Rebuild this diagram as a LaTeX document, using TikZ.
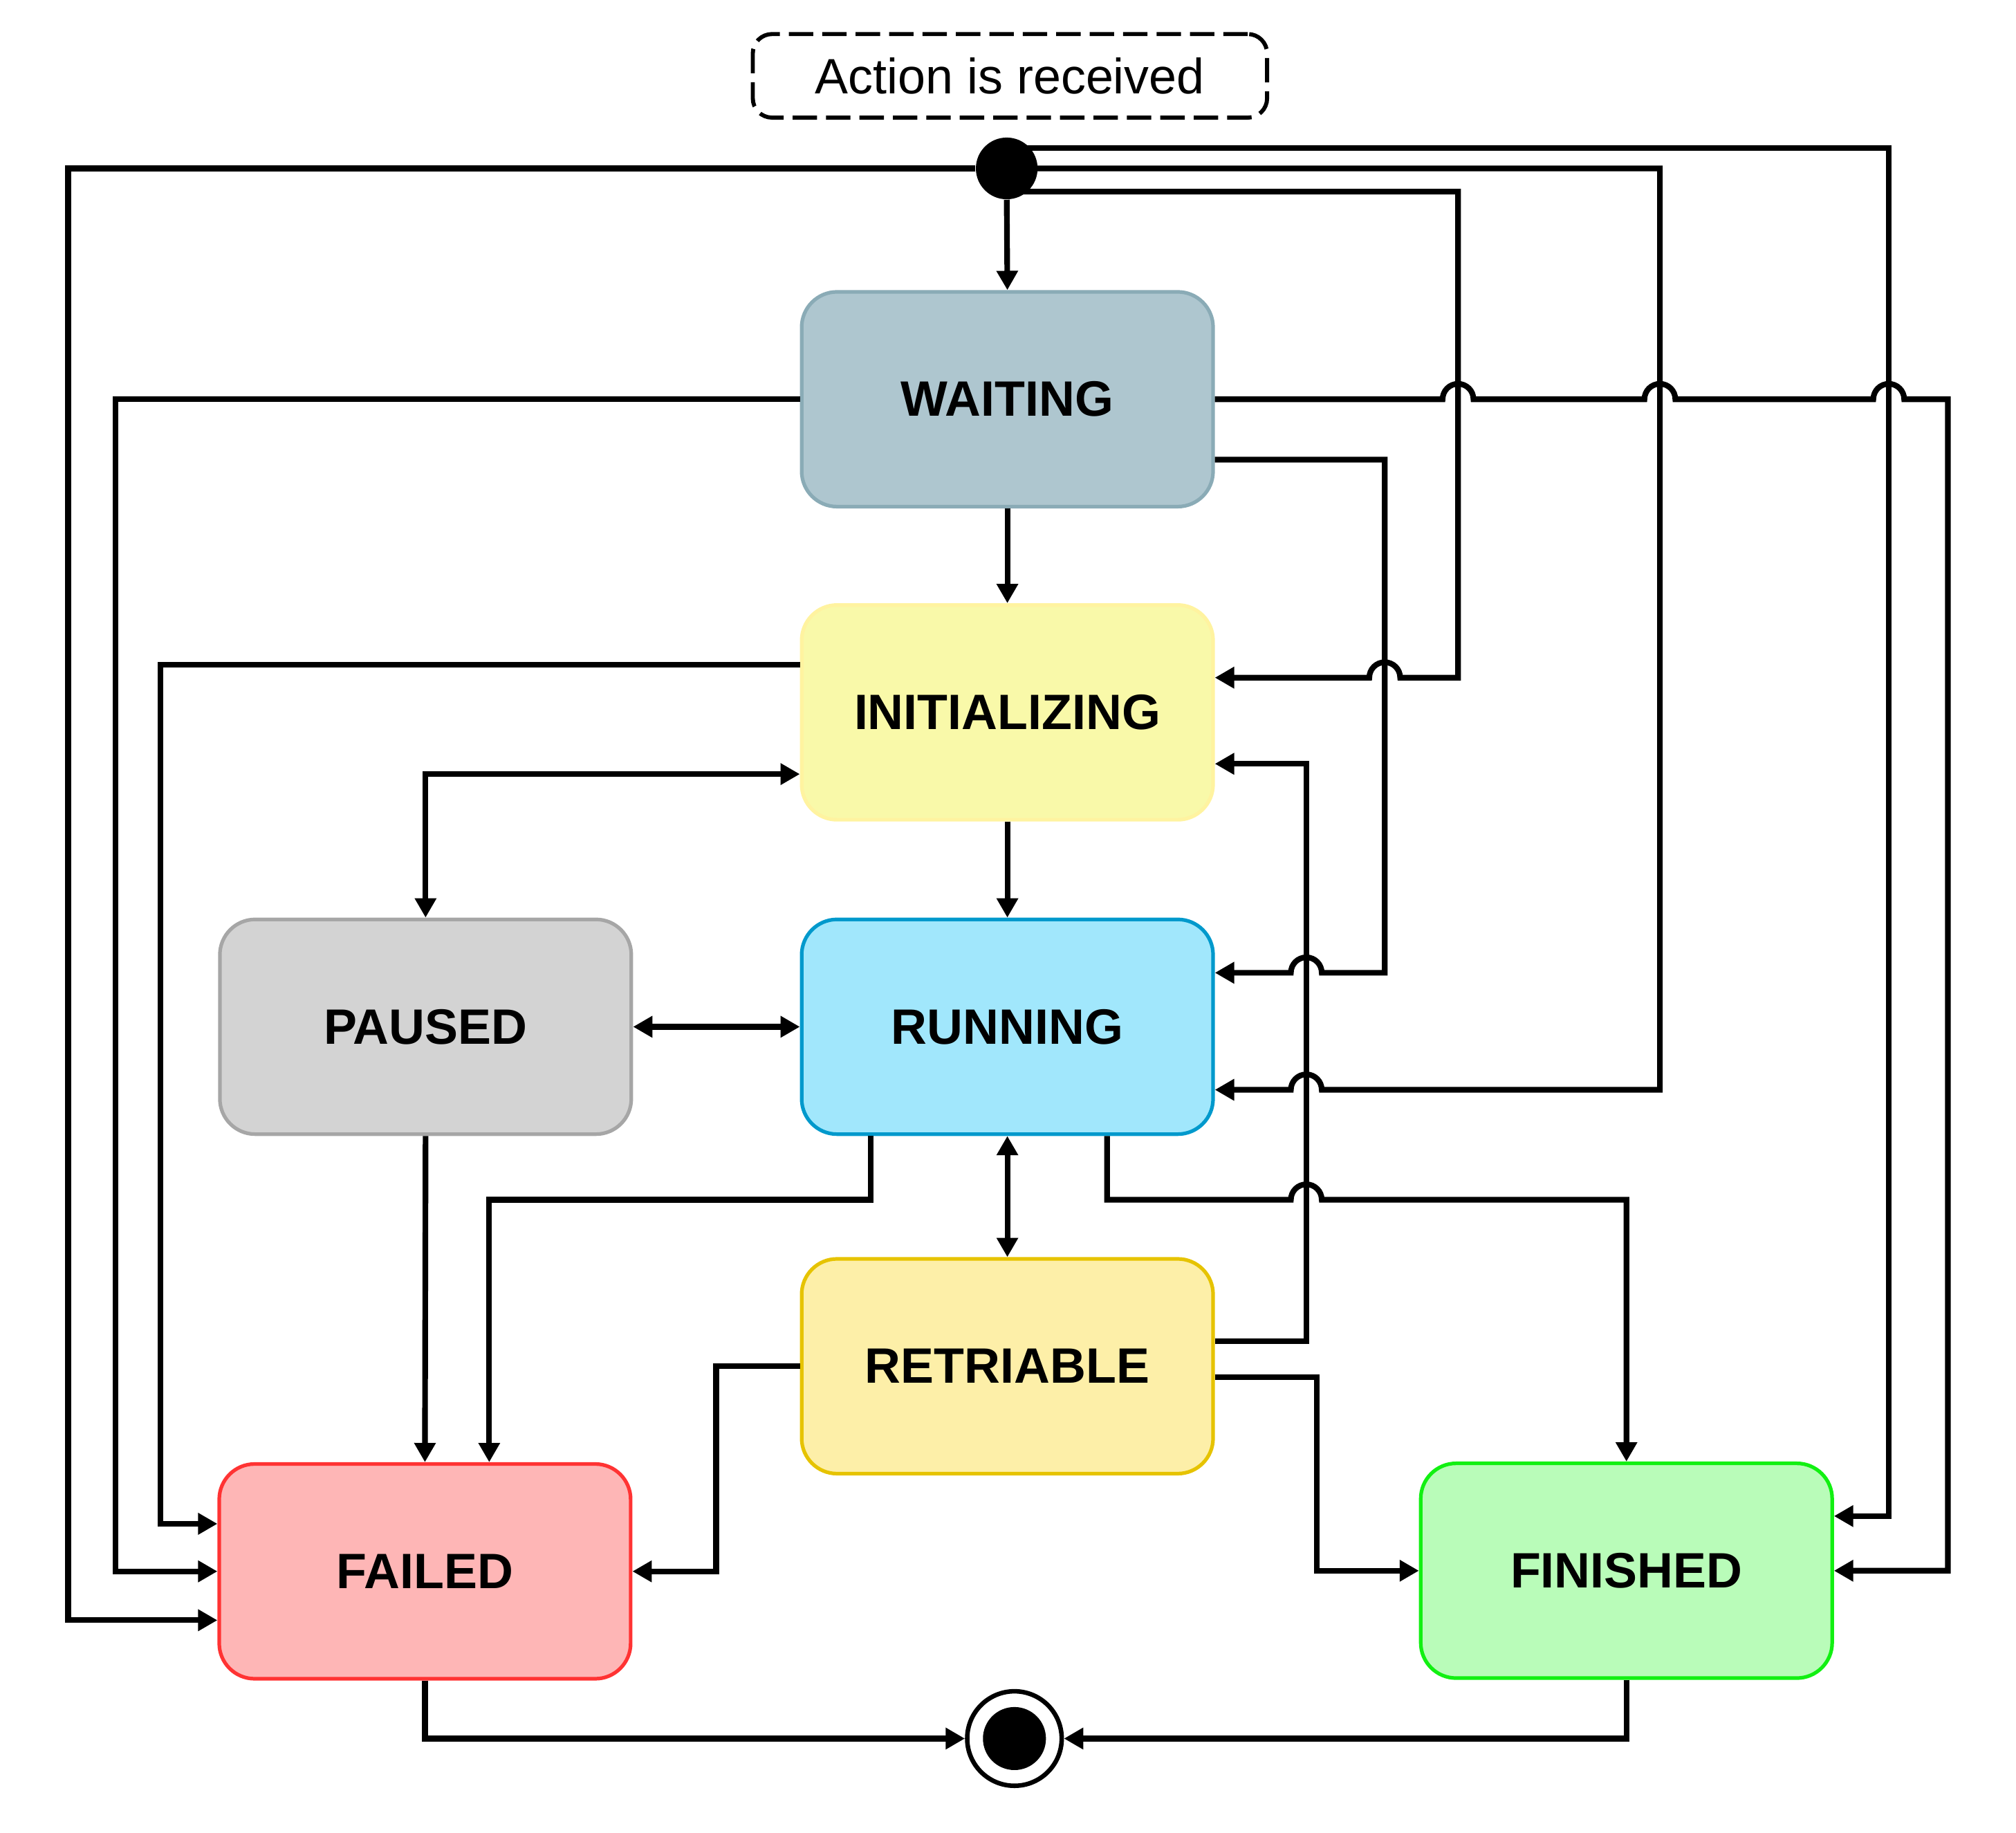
\documentclass[tikz,border=0pt]{standalone}
\usepackage{fontspec}
\setmainfont{Liberation Sans}
\usepackage{tikz}
\usetikzlibrary{arrows.meta, calc}

\definecolor{waitFill}{HTML}{AEC6CF}
\definecolor{waitLine}{HTML}{8AABB6}
\definecolor{initFill}{HTML}{F9F9A9}
\definecolor{initLine}{HTML}{FFF3A0}
\definecolor{pauseFill}{HTML}{D3D3D3}
\definecolor{pauseLine}{HTML}{A6A6A6}
\definecolor{runFill}{HTML}{A1E7FC}
\definecolor{runLine}{HTML}{0099CC}
\definecolor{retryFill}{HTML}{FDEFA8}
\definecolor{retryLine}{HTML}{E6C300}
\definecolor{failFill}{HTML}{FEB6B6}
\definecolor{failLine}{HTML}{FF3333}
\definecolor{finFill}{HTML}{B9FCB9}
\definecolor{finLine}{HTML}{12F012}

\begin{document}
\begin{tikzpicture}[
    stbox/.style={draw, rounded corners=0.55cm, line width=1.6pt, minimum width=6.4cm,
        minimum height=3.34cm, font=\fontsize{22}{26}\selectfont\bfseries},
    note/.style={draw, dash pattern=on 0.38cm off 0.14cm, rounded corners=0.3cm, line width=1.8pt,
        minimum width=8.0cm, minimum height=1.3cm, font=\fontsize{22}{26}\selectfont},
    startdot/.style={circle, fill=black, minimum size=0.96cm, inner sep=0pt},
    finaldot/.style={circle, draw, fill=white, line width=2pt, minimum size=1.47cm, inner sep=0pt},
    flow/.style={line width=2.5pt, -{Triangle[length=0.3cm,width=0.32cm]}},
    both/.style={line width=2.5pt, {Triangle[length=0.3cm,width=0.32cm]}-{Triangle[length=0.3cm,width=0.32cm]}}
]
    \useasboundingbox (0,0) rectangle (31.36,28.5);

    % states
    \node[note] (action) at (15.71,27.32) {Action is received};
    \node[startdot] (start) at (15.66,25.88) {};
    \node[stbox, fill=waitFill, draw=waitLine] (waiting) at (15.67,22.29) {WAITING};
    \node[stbox, fill=initFill, draw=initLine] (initializing) at (15.67,17.42) {INITIALIZING};
    \node[stbox, fill=pauseFill, draw=pauseLine] (paused) at (6.62,12.53) {PAUSED};
    \node[stbox, fill=runFill, draw=runLine] (running) at (15.67,12.53) {RUNNING};
    \node[stbox, fill=retryFill, draw=retryLine] (retriable) at (15.67,7.25) {RETRIABLE};
    \node[stbox, fill=failFill, draw=failLine] (failed) at (6.61,4.06) {FAILED};
    \node[stbox, fill=finFill, draw=finLine] (finished) at (25.3,4.07) {FINISHED};
    \node[finaldot] (final) at (15.78,1.46) {};
    \fill (final.center) circle (0.49);

    % routing lanes
    \coordinate (xA) at (1.06,0);
    \coordinate (xB) at (1.8,0);
    \coordinate (xC) at (2.5,0);
    \coordinate (xD) at (11.14,0);
    \coordinate (xK) at (20.32,0);
    \coordinate (xF) at (20.48,0);
    \coordinate (xE) at (21.54,0);
    \coordinate (xG) at (22.68,0);
    \coordinate (xH) at (25.82,0);
    \coordinate (xI) at (29.38,0);
    \coordinate (xJ) at (30.3,0);
    \coordinate (yL) at (0,9.84);

    % from the start
    \draw[flow] (start.south) -- (waiting.north);
    \draw[flow] (start.west) -- (start.west -| xA) |- ($(failed.west)+(0,-0.76)$);
    \draw[flow] ($(start.center)+(0,0.32)$) -| ($(finished.east -| xI)+(0,0.85)$) -- ($(finished.east)+(0,0.85)$);
    \draw[flow] (start.center) -| ($(running.east -| xH)+(0,-0.98)$)
        -- ($(running.east -| xK)+(0.24,-0.98)$) arc[start angle=0, end angle=180, radius=0.24]
        -- ($(running.east)+(0,-0.98)$);
    \draw[flow] ($(start.center)+(0,-0.36)$) -| ($(initializing.east -| xG)+(0,0.54)$)
        -- ($(initializing.east -| xE)+(0.24,0.54)$) arc[start angle=0, end angle=180, radius=0.24]
        -- ($(initializing.east)+(0,0.54)$);

    % waiting
    \draw[flow] (waiting.west) -- (waiting.west -| xB) |- (failed.west);
    \draw[flow] (waiting.east)
        -- ($(waiting.east -| xG)+(-0.24,0)$) arc[start angle=180, end angle=0, radius=0.24]
        -- ($(waiting.east -| xH)+(-0.24,0)$) arc[start angle=180, end angle=0, radius=0.24]
        -- ($(waiting.east -| xI)+(-0.24,0)$) arc[start angle=180, end angle=0, radius=0.24]
        -- (waiting.east -| xJ) |- (finished.east);
    \draw[flow] ($(waiting.east)+(0,-0.94)$) -| ($(running.east -| xE)+(0,0.84)$)
        -- ($(running.east -| xK)+(0.24,0.84)$) arc[start angle=0, end angle=180, radius=0.24]
        -- ($(running.east)+(0,0.84)$);
    \draw[flow] (waiting.south) -- (initializing.north);

    % initializing
    \draw[flow] ($(initializing.west)+(0,0.74)$) -- ($(initializing.west -| xC)+(0,0.74)$) |- ($(failed.west)+(0,0.74)$);
    \draw[both] ($(initializing.west)+(0,-0.96)$) -| (paused.north);
    \draw[flow] (initializing.south) -- (running.north);

    % paused and running
    \draw[both] (paused.east) -- (running.west);
    \draw[flow] (paused.south) -- (failed.north);
    \draw[flow] ($(running.south)+(-2.13,0)$) |- ($(yL -| failed.north)+(1.0,0)$) -- ($(failed.north)+(1.0,0)$);
    \draw[both] (running.south) -- (retriable.north);
    \draw[flow] ($(running.south)+(1.55,0)$) |- ($(yL -| xK)+(-0.24,0)$)
        arc[start angle=180, end angle=0, radius=0.24] -| (finished.north);

    % retriable
    \draw[flow] ($(retriable.east)+(0,0.39)$) -| ($(initializing.east -| xK)+(0,-0.8)$) -- ($(initializing.east)+(0,-0.8)$);
    \draw[flow] ($(retriable.east)+(0,-0.17)$) -| (xF |- finished.west) -- (finished.west);
    \draw[flow] (retriable.west) -| (xD |- failed.east) -- (failed.east);

    % to the end
    \draw[flow] (failed.south) |- (final.west);
    \draw[flow] (finished.south) |- (final.east);
\end{tikzpicture}
\end{document}
